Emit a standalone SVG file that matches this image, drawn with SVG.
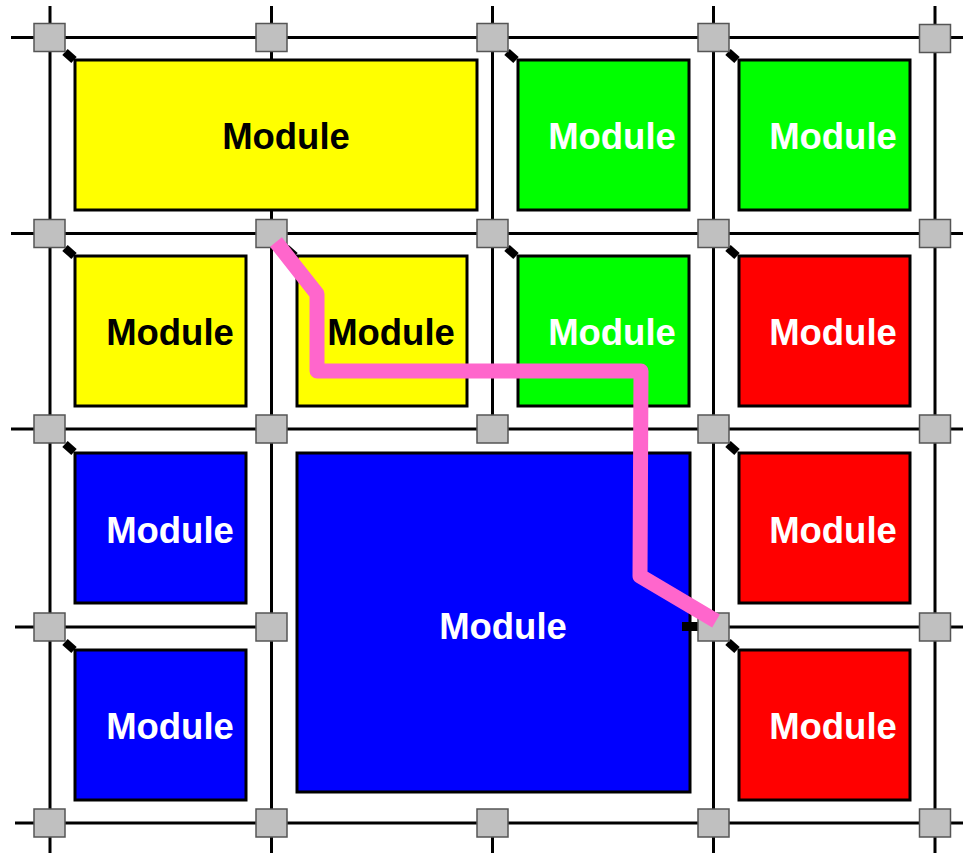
<svg xmlns="http://www.w3.org/2000/svg" width="963" height="853" viewBox="0 0 963 853">
  <style>
    .wire { stroke: #000; stroke-width: 3; fill: none; }
    .sw { fill: #c0c0c0; stroke: #555; stroke-width: 1.5; }
    .mod { stroke: #000; stroke-width: 3; }
    .lbl { font-family: "Liberation Sans", Arial, sans-serif; font-weight: bold; font-size: 36.5px; text-anchor: middle; }
    .dark { fill: #000; }
    .light { fill: #fff; }
    .tap { stroke: #000; stroke-width: 8; }
    .route { stroke: #ff66cc; stroke-width: 15; fill: none; stroke-linejoin: round; }
  </style>
  <rect width="963" height="853" fill="#fff"/>

  <!-- routing channels -->
  <g id="connectors">
    <line class="wire" x1="11" y1="37.5" x2="963" y2="37.5"/>
    <line class="wire" x1="11" y1="233.5" x2="963" y2="233.5"/>
    <line class="wire" x1="11" y1="429" x2="963" y2="429"/>
    <line class="wire" x1="15" y1="627" x2="271" y2="627"/>
    <line class="wire" x1="713" y1="627" x2="963" y2="627"/>
    <line class="wire" x1="15" y1="823" x2="963" y2="823"/>
    <line class="wire" x1="50" y1="6" x2="50" y2="853"/>
    <line class="wire" x1="271.5" y1="6" x2="271.5" y2="853"/>
    <line class="wire" x1="492.5" y1="6" x2="492.5" y2="429"/>
    <line class="wire" x1="492.5" y1="823" x2="492.5" y2="853"/>
    <line class="wire" x1="713.5" y1="6" x2="713.5" y2="853"/>
    <line class="wire" x1="935" y1="6" x2="935" y2="853"/>

    <!-- module taps -->
    <line class="tap" x1="65" y1="52" x2="74" y2="60"/>
    <line class="tap" x1="507" y1="52" x2="516" y2="60"/>
    <line class="tap" x1="728" y1="52" x2="737" y2="60"/>
    <line class="tap" x1="65" y1="248" x2="74" y2="256"/>
    <line class="tap" x1="286" y1="248" x2="295" y2="256"/>
    <line class="tap" x1="507" y1="248" x2="516" y2="256"/>
    <line class="tap" x1="728" y1="248" x2="737" y2="256"/>
    <line class="tap" x1="65" y1="444" x2="74" y2="452"/>
    <line class="tap" x1="728" y1="444" x2="737" y2="452"/>
    <line class="tap" x1="65" y1="642" x2="74" y2="650"/>
    <line class="tap" x1="728" y1="642" x2="737" y2="650"/>
  </g>

  <!-- modules -->
  <g id="m-yellow-wide"><rect class="mod" x="75" y="60" width="402" height="150" fill="#ffff00"/><text class="lbl dark" x="286" y="149">Module</text></g>
  <g id="m-green-1"><rect class="mod" x="518" y="60" width="171" height="150" fill="#00ff00"/><text class="lbl light" x="612" y="149">Module</text></g>
  <g id="m-green-2"><rect class="mod" x="739" y="60" width="171" height="150" fill="#00ff00"/><text class="lbl light" x="833" y="149">Module</text></g>

  <g id="m-yellow-1"><rect class="mod" x="75" y="256" width="171" height="150" fill="#ffff00"/><text class="lbl dark" x="170" y="345">Module</text></g>
  <g id="m-yellow-2"><rect class="mod" x="297" y="256" width="170" height="150" fill="#ffff00"/><text class="lbl dark" x="391" y="345">Module</text></g>
  <g id="m-green-3"><rect class="mod" x="518" y="256" width="171" height="150" fill="#00ff00"/><text class="lbl light" x="612" y="345">Module</text></g>
  <g id="m-red-1"><rect class="mod" x="739" y="256" width="171" height="150" fill="#ff0000"/><text class="lbl light" x="833" y="345">Module</text></g>

  <g id="m-blue-1"><rect class="mod" x="75" y="453" width="171" height="150" fill="#0000ff"/><text class="lbl light" x="170" y="543">Module</text></g>
  <g id="m-blue-big"><rect class="mod" x="297" y="453" width="393" height="339" fill="#0000ff"/><text class="lbl light" x="503" y="639">Module</text></g>
  <g id="m-red-2"><rect class="mod" x="739" y="453" width="171" height="150" fill="#ff0000"/><text class="lbl light" x="833" y="543">Module</text></g>

  <g id="m-blue-2"><rect class="mod" x="75" y="650" width="171" height="150" fill="#0000ff"/><text class="lbl light" x="170" y="739">Module</text></g>
  <g id="m-red-3"><rect class="mod" x="739" y="650" width="171" height="150" fill="#ff0000"/><text class="lbl light" x="833" y="739">Module</text></g>

  <!-- side tap of the large module -->
  <rect x="682" y="622" width="17" height="9" fill="#000"/>

  <!-- switch boxes -->
  <g id="switches">
    <rect class="sw" x="34" y="23.5" width="31" height="28"/>
    <rect class="sw" x="256" y="23.5" width="31" height="28"/>
    <rect class="sw" x="477" y="23.5" width="31" height="28"/>
    <rect class="sw" x="698" y="23.5" width="31" height="28"/>
    <rect class="sw" x="919.5" y="24.5" width="31" height="28"/>

    <rect class="sw" x="34" y="219.5" width="31" height="28"/>
    <rect class="sw" x="256" y="219.5" width="31" height="28"/>
    <rect class="sw" x="477" y="219.5" width="31" height="28"/>
    <rect class="sw" x="698" y="219.5" width="31" height="28"/>
    <rect class="sw" x="919.5" y="219.5" width="31" height="28"/>

    <rect class="sw" x="34" y="415" width="31" height="28"/>
    <rect class="sw" x="256" y="415" width="31" height="28"/>
    <rect class="sw" x="477" y="415" width="31" height="28"/>
    <rect class="sw" x="698" y="415" width="31" height="28"/>
    <rect class="sw" x="919.5" y="415" width="31" height="28"/>

    <rect class="sw" x="34" y="613" width="31" height="28"/>
    <rect class="sw" x="256" y="613" width="31" height="28"/>
    <rect class="sw" x="698" y="613" width="31" height="28"/>
    <rect class="sw" x="919.5" y="613" width="31" height="28"/>

    <rect class="sw" x="34" y="809" width="31" height="28"/>
    <rect class="sw" x="256" y="809" width="31" height="28"/>
    <rect class="sw" x="477" y="809" width="31" height="28"/>
    <rect class="sw" x="698" y="809" width="31" height="28"/>
    <rect class="sw" x="919.5" y="809" width="31" height="28"/>
  </g>

  <!-- routed path -->
  <g id="route">
    <polyline class="route" points="276,242 317,294 317,371 641,371 640,576 716,621"/>
  </g>
</svg>
